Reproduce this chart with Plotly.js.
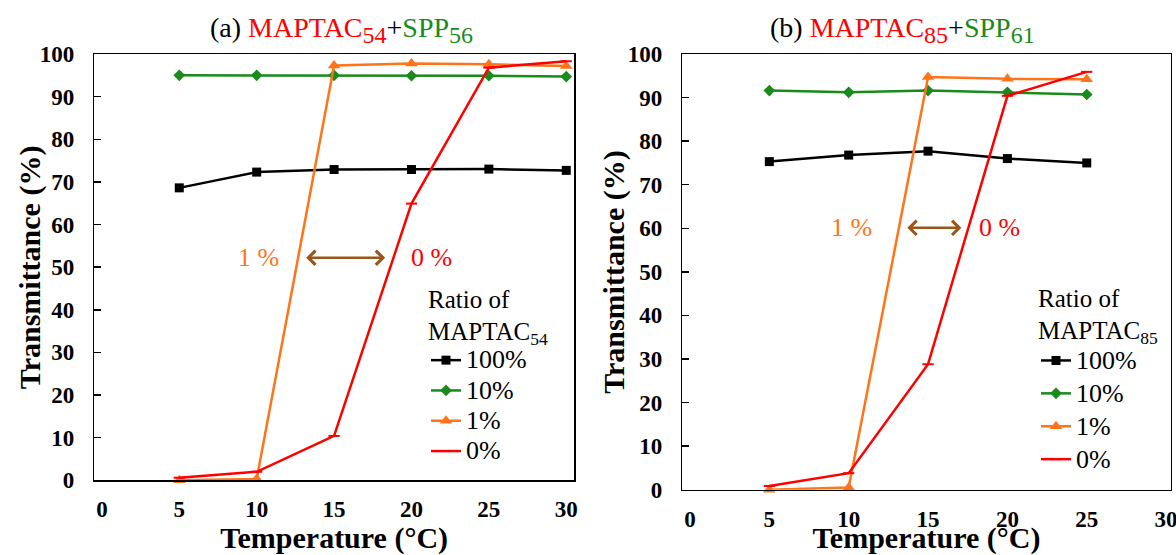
<!DOCTYPE html>
<html>
<head>
<meta charset="utf-8">
<script src="https://cdn.plot.ly/plotly-3.0.1.min.js"></script>
<style>
  html, body { margin: 0; padding: 0; background: #fff; }
  #chart { width: 1176px; height: 555px; }
</style>
</head>
<body>
<div id="chart"></div>
<script>
// Temperatures (°C) measured for each blend
const TEMPS_A = [5, 10, 15, 20, 25, 30];
const TEMPS_B = [5, 10, 15, 20, 25];

// Transmittance (%) for MAPTAC54 + SPP56, by MAPTAC54 ratio
const A_RATIO_100 = [68.6, 72.3, 72.9, 72.9, 73.0, 72.7];
const A_RATIO_10  = [95.0, 95.0, 95.0, 94.9, 94.9, 94.7];
const A_RATIO_1   = [0.0, 0.3, 97.3, 97.8, 97.6, 97.2];
const A_RATIO_0   = [0.6, 2.0, 10.4, 64.9, 96.8, 98.3];

// Transmittance (%) for MAPTAC85 + SPP61, by MAPTAC85 ratio
const B_RATIO_100 = [75.3, 76.8, 77.7, 76.0, 75.0];
const B_RATIO_10  = [91.6, 91.2, 91.6, 91.2, 90.7];
const B_RATIO_1   = [0.0, 0.5, 94.7, 94.3, 94.2];
const B_RATIO_0   = [0.85, 3.8, 28.8, 90.4, 95.9];

// Series names and axis ticks
const RATIO_NAMES = ['100%', '10%', '1%', '0%'];
const TEMP_TICKS = [0, 5, 10, 15, 20, 25, 30];
const PCT_TICKS = [0, 10, 20, 30, 40, 50, 60, 70, 80, 90, 100];

const SERIF = 'Liberation Serif';
const RED = '#ff0000';
const GREEN = '#1a8a1a';
const ORANGE = '#ff7418';
const BROWN = '#9a5518';

const styles = [
  {color: '#000000', symbol: 'square', size: 9},
  {color: GREEN, symbol: 'diamond', size: 9},
  {color: ORANGE, symbol: 'triangle-up', size: 11},
  {color: RED, symbol: 'line-ew', size: 8}
];

function series(xs, ys, i, xa, ya, legendId, nameSize) {
  const s = styles[i];
  return {
    type: 'scatter', mode: 'lines+markers',
    x: xs, y: ys,
    name: '<span style="font-size:' + nameSize + 'px">' + RATIO_NAMES[i] + '</span>',
    xaxis: xa, yaxis: ya, legend: legendId,
    cliponaxis: false,
    line: {color: s.color, width: 2.5},
    marker: {color: s.color, symbol: s.symbol, size: s.size,
             line: {color: s.color, width: s.symbol === 'line-ew' ? 2 : 0}}
  };
}

const dataA = [A_RATIO_100, A_RATIO_10, A_RATIO_1, A_RATIO_0];
const dataB = [B_RATIO_100, B_RATIO_10, B_RATIO_1, B_RATIO_0];
const traces = [];
dataA.forEach((ys, i) => traces.push(series(TEMPS_A, ys, i, 'x', 'y', 'legend', 26)));
dataB.forEach((ys, i) => traces.push(series(TEMPS_B, ys, i, 'x2', 'y2', 'legend2', 26)));

const W = 1176, H = 555;
// plot-area edges in pixels
const A_BOX = {l: 94.3, r: 574, t: 54, b: 480.3};
const B_BOX = {l: 682.3, r: 1170.7, t: 54, b: 489.7};

const tickFont = {family: SERIF, size: 23, color: '#000', weight: 'bold'};
const titleFont = {family: SERIF, size: 30, color: '#000', weight: 'bold'};

function labelAxis(box, range) {
  return {
    domain: [box.l / W, box.r / W], range: range,
    showline: true, mirror: true, linecolor: '#000', linewidth: 1.5,
    showgrid: false, zeroline: false, ticks: '',
    tickmode: 'array', tickvals: TEMP_TICKS, ticktext: TEMP_TICKS.map(String),
    tickfont: tickFont, ticklabelstandoff: 8, ticklabeloverflow: 'allow',
    title: {text: 'Temperature (°C)', font: titleFont, standoff: 6}
  };
}
// tick marks sit between the sample positions, on their own overlay axis
function tickAxis(base, box, span) {
  return {
    overlaying: base, anchor: base === 'x' ? 'y' : 'y2', side: 'bottom',
    range: [0, span], showline: false, showgrid: false, zeroline: false,
    ticks: 'inside', ticklen: 7, tickwidth: 1.5, tickcolor: '#000',
    tickmode: 'array', tickvals: TEMP_TICKS, showticklabels: false
  };
}
function valueAxis(box) {
  return {
    domain: [1 - box.b / H, 1 - box.t / H], range: [0, 100],
    showline: true, mirror: true, linecolor: '#000', linewidth: 1.5,
    showgrid: false, zeroline: false,
    ticks: 'inside', ticklen: 7, tickwidth: 1.5, tickcolor: '#000',
    tickmode: 'array', tickvals: PCT_TICKS,
    tickfont: tickFont, ticklabelstandoff: 14
  };
}

const legendBase = {
  bgcolor: 'rgba(0,0,0,0)', borderwidth: 0,
  xanchor: 'left', yanchor: 'top',
  tracegroupgap: 0, itemclick: false, itemdoubleclick: false
};

const annFont = (c) => ({family: SERIF, size: 26, color: c});
const sub = (t) => '<sub><span style="font-size:24px">' + t + '</span></sub>';
function titleText(tag, a, b) {
  return tag + ' <span style="color:' + RED + '">MAPTAC' + sub(a) + '</span>+' +
         '<span style="color:' + GREEN + '">SPP' + sub(b) + '</span>';
}
function yTitle(px, box) {
  return {xref: 'paper', yref: 'paper', x: px / W, y: 1 - (box.t + box.b) / 2 / H,
          xanchor: 'center', yanchor: 'middle', textangle: -90, showarrow: false,
          text: 'Transmittance (%)', font: titleFont};
}

const annotations = [
  {xref: 'paper', yref: 'paper', x: 341 / W, y: 1 - 30 / H, xanchor: 'center', yanchor: 'middle',
   text: titleText('(a)', '54', '56'), showarrow: false, font: {family: SERIF, size: 28, color: '#000'}},
  {xref: 'paper', yref: 'paper', x: 902 / W, y: 1 - 30 / H, xanchor: 'center', yanchor: 'middle',
   text: titleText('(b)', '85', '61'), showarrow: false, font: {family: SERIF, size: 28, color: '#000'}},
  yTitle(30, A_BOX),
  yTitle(614, B_BOX),

  {xref: 'x', yref: 'y', x: 10.1, y: 52.2, text: '1 %', showarrow: false, font: annFont(ORANGE)},
  {xref: 'x', yref: 'y', x: 21.3, y: 52.2, text: '0 %', showarrow: false, font: annFont(RED)},
  {xref: 'x', yref: 'y', axref: 'x', ayref: 'y', x: 18.3, y: 52.2, ax: 13.1, ay: 52.2, text: '',
   showarrow: true, arrowside: 'end+start', arrowhead: 4, startarrowhead: 4, arrowsize: 1.1, startarrowsize: 1.1,
   arrowwidth: 2.5, arrowcolor: BROWN, standoff: 0, startstandoff: 0},

  {xref: 'x2', yref: 'y2', x: 10.2, y: 60.1, text: '1 %', showarrow: false, font: annFont(ORANGE)},
  {xref: 'x2', yref: 'y2', x: 19.5, y: 60.1, text: '0 %', showarrow: false, font: annFont(RED)},
  {xref: 'x2', yref: 'y2', axref: 'x2', ayref: 'y2', x: 17.1, y: 60.1, ax: 13.6, ay: 60.1, text: '',
   showarrow: true, arrowside: 'end+start', arrowhead: 4, startarrowhead: 4, arrowsize: 1.1, startarrowsize: 1.1,
   arrowwidth: 2.5, arrowcolor: BROWN, standoff: 0, startstandoff: 0}
];

const layout = {
  width: W, height: H,
  margin: {l: 0, r: 0, t: 0, b: 0},
  paper_bgcolor: '#fff', plot_bgcolor: '#fff',
  font: {family: SERIF, color: '#000'},
  showlegend: true,
  xaxis: Object.assign(labelAxis(A_BOX, [-0.49, 30.5]), {anchor: 'y'}),
  xaxis2: Object.assign(labelAxis(B_BOX, [-0.485, 30.29]), {anchor: 'y2'}),
  xaxis3: tickAxis('x', A_BOX, (A_BOX.r - A_BOX.l) / 15.48),
  xaxis4: tickAxis('x2', B_BOX, (B_BOX.r - B_BOX.l) / 15.87),
  yaxis: Object.assign(valueAxis(A_BOX), {anchor: 'x'}),
  yaxis2: Object.assign(valueAxis(B_BOX), {anchor: 'x2'}),
  legend: Object.assign({}, legendBase, {
    x: 426 / W, y: 1 - 275 / H,
    font: {family: SERIF, size: 21, color: '#000'},
    title: {text: 'Ratio of<br>MAPTAC<sub>54</sub>', side: 'top center', font: {family: SERIF, size: 25, color: '#000'}}
  }),
  legend2: Object.assign({}, legendBase, {
    x: 1036 / W, y: 1 - 274 / H,
    font: {family: SERIF, size: 23, color: '#000'},
    title: {text: 'Ratio of<br>MAPTAC<sub>85</sub>', side: 'top center', font: {family: SERIF, size: 25, color: '#000'}}
  }),
  annotations: annotations
};

Plotly.newPlot('chart', traces, layout, {staticPlot: true, displayModeBar: false});
</script>
</body>
</html>
